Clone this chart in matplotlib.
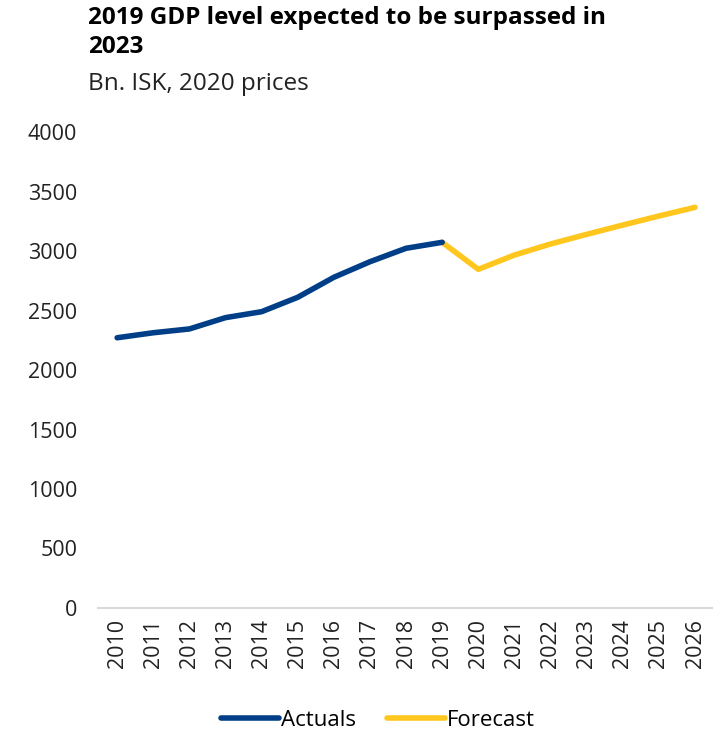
import matplotlib
matplotlib.use("Agg")
import matplotlib.pyplot as plt
import numpy as np

years = [str(y) for y in range(2010, 2027)]
actual_years = years[:10]
actual_vals = [2271, 2313, 2345, 2440, 2490, 2611, 2779, 2910, 3023, 3073]
forecast_years = years[9:]
forecast_vals = [3073, 2846, 2966, 3059, 3140, 3218, 3294, 3367]

plt.rcParams['font.family'] = ['Open Sans', 'DejaVu Sans']

W, H = 718, 738
fig = plt.figure(figsize=(W/100, H/100), dpi=100)
ax = fig.add_axes([98/W, 1-608/H, (712-98)/W, (608-132)/H])

idx = {y: i for i, y in enumerate(years)}
ax.plot([idx[y] for y in actual_years], actual_vals, color='#003F87', lw=4,
        solid_capstyle='round', solid_joinstyle='round', label='Actuals', zorder=3)
ax.plot([idx[y] for y in forecast_years], forecast_vals, color='#FFC61E', lw=4,
        solid_capstyle='round', solid_joinstyle='round', label='Forecast', zorder=2)

ax.set_xlim(-0.53, len(years) - 1 + 0.47)
ax.set_ylim(0, 4000)
ax.set_yticks(np.arange(0, 4001, 500))
ax.set_xticks(range(len(years)))
ax.set_xticklabels(years, rotation=90)
for s in ['top', 'right', 'left']:
    ax.spines[s].set_visible(False)
ax.spines['bottom'].set_color('#D9D9D9')
ax.spines['bottom'].set_linewidth(1.5)
ax.tick_params(axis='both', length=0, labelsize=15.5, colors='#222222')
ax.tick_params(axis='y', pad=15)
ax.tick_params(axis='x', pad=8)

fig.text(88/W, 1-6/H, "2019 GDP level expected to be surpassed in\n2023", fontsize=17.5,
         fontweight='bold', va='top', ha='left', linespacing=1.3)
fig.text(88/W, 1-72/H, "Bn. ISK, 2020 prices", fontsize=17.5, va='top', ha='left', color='#222222')

leg = fig.legend(loc='center', bbox_to_anchor=(378/W, 1-720/H), ncol=2, frameon=False,
                 fontsize=16, handlelength=2.6, handletextpad=0.1, columnspacing=1.4)

fig.savefig('out.png', dpi=100)
